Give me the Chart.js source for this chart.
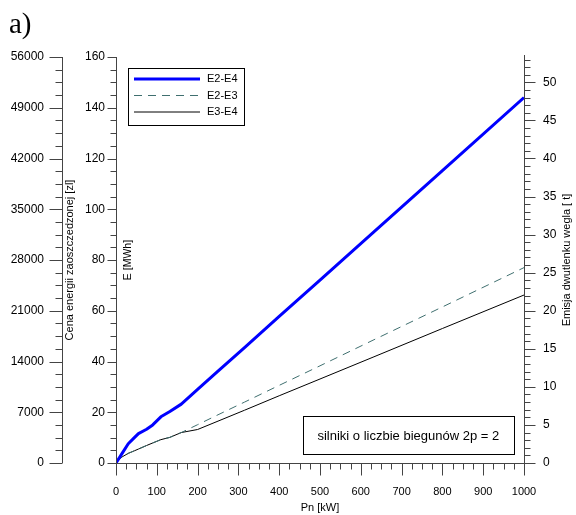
<!DOCTYPE html>
<html>
<head>
<meta charset="utf-8">
<script src="https://cdn.jsdelivr.net/npm/chart.js@4.4.1/dist/chart.umd.min.js"></script>
<style>
  html, body { margin: 0; padding: 0; background: #fff; }
  canvas { display: block; }
</style>
</head>
<body>
<canvas id="chart" width="576" height="515"></canvas>
<script>
// moc znamionowa silnika [kW]
const powerKW = [0, 15, 30, 45, 55, 75, 90, 110, 132, 160, 200, 250, 315, 400, 500, 630, 800, 1000];
// energia zaoszczedzona [MWh]
const e2e4 = [0, 3.8, 7.6, 10, 11.6, 13.3, 15, 18.2, 20.3, 23.2, 29, 36.2, 45.5, 57.8, 72.1, 90.8, 115.2, 144];
const e2e3 = [0, 2.4, 3.8, 4.8, 5.5, 6.9, 7.9, 9.2, 10.1, 12.0, 15.1, 19, 24, 30.6, 38.3, 48.4, 61.5, 77];
const e3e4 = [0, 2.4, 3.8, 4.8, 5.5, 6.9, 7.9, 9.2, 10.1, 12.0, 13.2, 16.5, 20.8, 26.5, 33.1, 41.7, 53, 66.2];
const seriesNames = ['E2-E4', 'E2-E3', 'E3-E4'];

const xTicks = [0, 100, 200, 300, 400, 500, 600, 700, 800, 900, 1000];
const eTicks = [0, 20, 40, 60, 80, 100, 120, 140, 160];
const priceTicks = [0, 7000, 14000, 21000, 28000, 35000, 42000, 49000, 56000];
const co2Ticks = [0, 5, 10, 15, 20, 25, 30, 35, 40, 45, 50];

const pricePerMWh = 350;   // zl / MWh
const co2PerMWh = 1 / 3;   // t / MWh
const eMax = 160;

const toPts = arr => powerKW.map((p, i) => ({ x: p, y: arr[i] }));
const tickFont = { family: 'Liberation Sans, Arial, sans-serif', size: 12 };
const plain = v => String(v);

function fixTicks(values) {
    return scale => { scale.ticks = values.map(v => ({ value: v })); };
}

// osie, kreski podzialki, tytuly, legenda i ramka z opisem
const decor = {
    id: 'decor',
    afterDraw(chart) {
        const { ctx, chartArea: a, scales } = chart;
        const sx = scales.x, sy = scales.y, sp = scales.yP, st = scales.yT;
        const px = v => Math.round(v) + 0.5;
        ctx.save();
        ctx.strokeStyle = '#444';
        ctx.lineWidth = 1;
        const line = (x1, y1, x2, y2) => {
            ctx.beginPath(); ctx.moveTo(x1, y1); ctx.lineTo(x2, y2); ctx.stroke();
        };

        const xOuter = px(sp.right), xMain = px(a.left), xRight = px(a.right), yBot = px(a.bottom);
        line(xOuter, a.top, xOuter, a.bottom);
        line(xMain, a.top, xMain, a.bottom + 7);
        line(xRight, a.top - 2, xRight, a.bottom + 7);
        line(a.left, yBot, a.right, yBot);

        // lewa zewnetrzna os - cena
        for (let v = 0; v <= 56000; v += 1750) {
            const y = px(sp.getPixelForValue(v));
            line(xOuter - (v % 7000 === 0 ? 13 : 7), y, xOuter, y);
        }
        // os E
        for (let v = 0; v <= eMax; v += 5) {
            const y = px(sy.getPixelForValue(v));
            line(xMain - (v % 20 === 0 ? 9 : 6), y, xMain, y);
        }
        // prawa os - emisja
        for (let v = 0; v <= 53; v += 1) {
            const y = px(st.getPixelForValue(v));
            line(xRight, y, xRight + (v % 5 === 0 ? 11 : 6), y);
        }
        // os x
        for (let v = 0; v <= 1000; v += 25) {
            const x = px(sx.getPixelForValue(v));
            line(x, yBot, x, yBot + (v % 100 === 0 ? 12 : 6));
        }

        ctx.fillStyle = '#000';
        const vText = (txt, x, y, size) => {
            ctx.save();
            ctx.translate(x, y);
            ctx.rotate(-Math.PI / 2);
            ctx.font = size + 'px Liberation Sans, Arial, sans-serif';
            ctx.textAlign = 'center';
            ctx.textBaseline = 'middle';
            ctx.fillText(txt, 0, 0);
            ctx.restore();
        };
        const midY = (a.top + a.bottom) / 2;
        vText('Cena energii zaoszczedzonej [zl]', sp.right + 8, midY, 11);
        vText('E [MWh]', a.left + 12, midY, 10.5);
        vText('Emisja dwutlenku wegla [ t]', st.right - 9, midY, 11);

        ctx.font = '11px Liberation Sans, Arial, sans-serif';
        ctx.textAlign = 'center';
        ctx.textBaseline = 'middle';
        ctx.fillText('Pn [kW]', sx.getPixelForValue(500), a.bottom + 45);

        ctx.font = '29px Liberation Serif, Times New Roman, serif';
        ctx.textAlign = 'left';
        ctx.textBaseline = 'alphabetic';
        ctx.fillText('a)', 9, 33);

        // legenda
        const lx = a.left + 12, ly = a.top + 11;
        ctx.strokeStyle = '#000';
        ctx.strokeRect(px(lx), px(ly), 116, 57);
        chart.data.datasets.forEach((ds, i) => {
            const y = ly + 11 + i * 16.5;
            ctx.save();
            ctx.strokeStyle = ds.borderColor;
            ctx.lineWidth = ds.borderWidth;
            ctx.setLineDash(ds.borderDash || []);
            line(lx + 6, y, lx + 72, y);
            ctx.restore();
            ctx.font = '11px Liberation Sans, Arial, sans-serif';
            ctx.textBaseline = 'middle';
            ctx.fillText(ds.label, lx + 79, y);
        });

        // ramka z opisem
        const bx1 = sx.getPixelForValue(458), bx2 = sx.getPixelForValue(975);
        const by1 = sy.getPixelForValue(18.5), by2 = sy.getPixelForValue(3.6);
        ctx.strokeStyle = '#000';
        ctx.strokeRect(px(bx1), px(by1), Math.round(bx2 - bx1), Math.round(by2 - by1));
        ctx.font = '13px Liberation Sans, Arial, sans-serif';
        ctx.textAlign = 'center';
        ctx.fillText('silniki o liczbie biegunów 2p = 2', (bx1 + bx2) / 2, (by1 + by2) / 2 + 1);
        ctx.restore();
    }
};

new Chart(document.getElementById('chart'), {
    type: 'line',
    data: {
        datasets: [
            { label: seriesNames[0], data: toPts(e2e4), borderColor: '#0000ff', borderWidth: 3, yAxisID: 'y' },
            { label: seriesNames[1], data: toPts(e2e3), borderColor: '#3f6f6f', borderWidth: 1, borderDash: [8, 6], yAxisID: 'y' },
            { label: seriesNames[2], data: toPts(e3e4), borderColor: '#000000', borderWidth: 1, yAxisID: 'y' }
        ]
    },
    options: {
        responsive: false,
        animation: false,
        layout: { padding: { top: 57, left: 0, right: 0, bottom: 0 } },
        elements: { point: { radius: 0 }, line: { tension: 0, borderJoinStyle: 'round' } },
        plugins: { legend: { display: false }, tooltip: { enabled: false } },
        scales: {
            x: {
                type: 'linear', position: 'bottom', min: 0, max: 1000,
                afterBuildTicks: fixTicks(xTicks),
                afterFit: s => { s.height = 52; },
                grid: { display: false, drawTicks: false }, border: { display: false },
                ticks: { color: '#000', font: { ...tickFont, size: 11 }, padding: 22, maxRotation: 0, callback: plain }
            },
            y: {
                type: 'linear', position: 'left', weight: 0, min: 0, max: eMax,
                afterBuildTicks: fixTicks(eTicks),
                afterFit: s => { s.width = 54; },
                grid: { display: false, drawTicks: false }, border: { display: false },
                ticks: { color: '#000', font: tickFont, padding: 11, callback: plain }
            },
            yP: {
                type: 'linear', position: 'left', weight: 10, min: 0, max: eMax * pricePerMWh,
                afterBuildTicks: fixTicks(priceTicks),
                afterFit: s => { s.width = 62; },
                grid: { display: false, drawTicks: false }, border: { display: false },
                ticks: { color: '#000', font: tickFont, padding: 18, callback: plain }
            },
            yT: {
                type: 'linear', position: 'right', min: 0, max: eMax * co2PerMWh,
                afterBuildTicks: fixTicks(co2Ticks),
                afterFit: s => { s.width = 52; },
                grid: { display: false, drawTicks: false }, border: { display: false },
                ticks: { color: '#000', font: tickFont, padding: 19, callback: plain }
            }
        }
    },
    plugins: [decor]
});
</script>
</body>
</html>
